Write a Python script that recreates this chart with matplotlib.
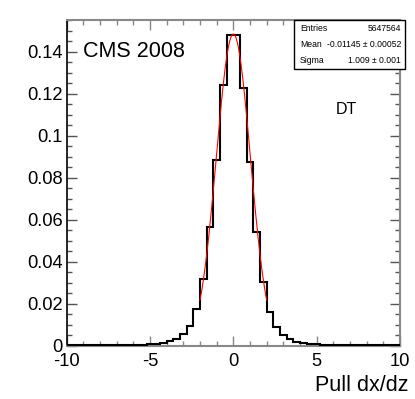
import matplotlib
matplotlib.use('Agg')
import matplotlib.pyplot as plt
import numpy as np
from matplotlib.ticker import MultipleLocator, FuncFormatter

plt.rcParams['font.family'] = ['Liberation Sans', 'DejaVu Sans']

# histogram: 50 bins from -10 to 10, normalised
bin_edges = np.linspace(-10, 10, 51)
bin_values = [
    0.0001, 0.0001, 0.00011, 0.00012, 0.00013, 0.00015, 0.00017, 0.0002,
    0.00024, 0.00029, 0.00036, 0.00047, 0.0006, 0.0009, 0.0014, 0.0021,
    0.0032, 0.0056, 0.0095, 0.0175, 0.0318, 0.0564, 0.0884, 0.1241,
    0.148, 0.148, 0.1226, 0.0876, 0.0543, 0.0305, 0.0162, 0.0090,
    0.0051, 0.0030, 0.0018, 0.0011, 0.0008, 0.0006, 0.00047, 0.00037,
    0.0003, 0.00025, 0.0002, 0.00017, 0.00015, 0.00013, 0.00012, 0.00011,
    0.0001, 0.0001,
]

# gaussian fit parameters (fit range -2..2)
fit_amp = 0.1484
fit_mean = 0.0
fit_sigma = 1.02
fit_range = (-2.0, 2.0)

stats_rows = [("Entries", "5647564"),
              ("Mean", "-0.01145 \u00b1 0.00052"),
              ("Sigma", "1.009 \u00b1 0.001")]

W, H = 415, 399
fig = plt.figure(figsize=(W / 100, H / 100), dpi=100)
ax = fig.add_axes([66.7 / W, 1 - 345.7 / H, (400 - 66.7) / W, (345.7 - 20) / H])

ax.stairs(bin_values, bin_edges, color='black', linewidth=1.5, zorder=3)

xf = np.linspace(fit_range[0], fit_range[1], 200)
yf = fit_amp * np.exp(-0.5 * ((xf - fit_mean) / fit_sigma) ** 2)
ax.plot(xf, yf, color='red', linewidth=0.8, zorder=4)

ax.set_xlim(-10, 10)
ax.set_ylim(0, 0.1551)

ax.xaxis.set_major_locator(MultipleLocator(5))
ax.xaxis.set_minor_locator(MultipleLocator(1))
ax.yaxis.set_major_locator(MultipleLocator(0.02))
ax.yaxis.set_minor_locator(MultipleLocator(0.005))
ax.yaxis.set_major_formatter(FuncFormatter(lambda v, p: '%g' % round(v, 4)))
ax.xaxis.set_major_formatter(FuncFormatter(lambda v, p: '%g' % v))

ax.tick_params(which='both', direction='in', top=True, right=True, labelsize=13.2)
ax.tick_params(which='major', length=7.5, width=1)
ax.tick_params(which='minor', length=3.5, width=1)
ax.tick_params(axis='y', which='both', colors='#555555', labelcolor='black', pad=3)
ax.tick_params(axis='x', which='both', colors='#888888', labelcolor='black', pad=5.5)

for s in ['bottom', 'top', 'right']:
    ax.spines[s].set_color('#888888')
    ax.spines[s].set_linewidth(1.5)
ax.spines['left'].set_color('black')
ax.spines['left'].set_linewidth(1.2)

fig.text(408 / W, 1 - 391 / H, 'Pull dx/dz', fontsize=15.5, va='baseline', ha='right')
fig.text(83 / W, 1 - 51.7 / H, 'CMS 2008', fontsize=15.5, va='center', ha='left')
fig.text(336 / W, 1 - 109 / H, 'DT', fontsize=11.5, va='center', ha='left')

# stats box
bx0, bx1, by0, by1 = 294, 405, 20, 69
box = plt.Rectangle((bx0 / W, 1 - by1 / H), (bx1 - bx0) / W, (by1 - by0) / H,
                    transform=fig.transFigure, facecolor='white', edgecolor='black',
                    linewidth=1, zorder=5)
fig.patches.append(box)
row_h = (by1 - by0) / len(stats_rows)
for i, (name, val) in enumerate(stats_rows):
    yc = by0 + row_h * (i + 0.5)
    fig.text((bx0 + 6) / W, 1 - yc / H, name, fontsize=6.2, va='center', ha='left', zorder=6)
    fig.text((bx1 - 4) / W, 1 - yc / H, val, fontsize=6.2, va='center', ha='right', zorder=6)

fig.savefig('out.png', dpi=100)
